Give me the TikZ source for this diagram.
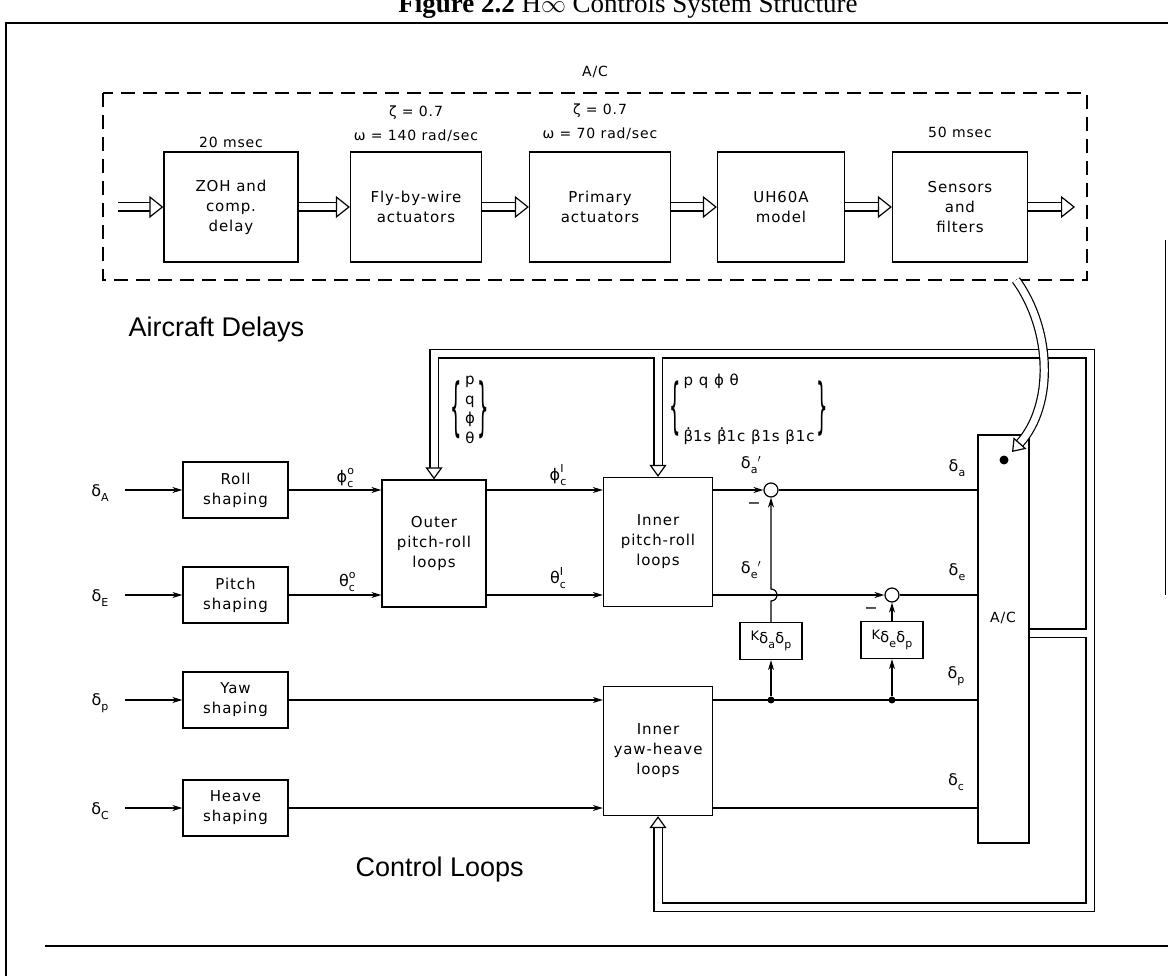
\documentclass[tikz,border=0pt]{standalone}
\usepackage{graphicx}
\usepackage{fontspec}
\setmainfont{DejaVu Sans}[LetterSpace=6]
\newfontfamily\bigfont{Liberation Sans}
\newfontfamily\titlefont{Liberation Serif}
\usetikzlibrary{arrows.meta,calc}
\tikzset{
  blk/.style={rectangle,draw,line width=1.3pt,align=center,inner sep=2pt,font=\fontsize{15}{20}\selectfont},
  topblk/.style={blk,minimum height=110pt},
  shblk/.style={blk,minimum width=105pt,minimum height=56pt},
  lpblk/.style={blk,minimum width=109pt,minimum height=129pt},
  kblk/.style={blk,minimum width=62pt,minimum height=37pt,inner sep=1pt},
  sig/.style={-{Stealth[length=10pt,width=6pt]},line width=1.2pt},
  wire/.style={line width=1.2pt},
  pipe/.style={double,double distance=7pt,line width=1.2pt},
  pipearr/.style={pipe,-{Triangle[open,fill=white,length=14pt,width=22pt]}},
  fbarr/.style={pipe,-{Triangle[open,fill=white,length=12pt,width=17pt]}},
  sumj/.style={circle,draw,line width=1.2pt,minimum size=14pt,inner sep=0pt},
  jdot/.style={circle,fill,inner sep=0pt,minimum size=7pt},
  lbl/.style={inner sep=1pt,font=\fontsize{16}{18}\selectfont},
  note/.style={inner sep=1pt,font=\fontsize{14}{16}\selectfont},
  big/.style={anchor=base west,font=\bigfont\fontsize{27}{30}\selectfont}
}
\newcommand{\bdot}{\ooalign{β\cr\hidewidth\raisebox{0.8em}{.}\hidewidth\cr}}
\newcommand{\sbs}[1]{\raisebox{-0.3em}{\fontsize{11}{11}\selectfont #1}}
\newcommand{\supsbs}[2]{\rlap{\raisebox{0.5em}{\fontsize{11}{11}\selectfont #1}}\raisebox{-0.3em}{\fontsize{11}{11}\selectfont #2}}
\newcommand{\tallbr}[2]{$\vcenter{\hbox{\scalebox{1.2}[#2]{#1}}}$}
\begin{document}
\begin{tikzpicture}[x=1pt,y=-1pt]
\useasboundingbox (0,0) rectangle (1168,976);
% frame and title
\node[anchor=base,font=\titlefont\fontsize{27}{27}\selectfont] (title) at (628,13)
  {\textbf{Figure 2.2} H$\infty$ Controls System Structure};
\draw[line width=2pt] (6,976) -- (6,23) -- (1168,23);
\draw[line width=2pt] (45,946) -- (1168,946);
\draw[line width=1pt] (1165,240) -- (1165,595);

% aircraft delays
\node[note] (aclbl) at (595,72) {A/C};
\draw[line width=1.3pt,dash pattern=on 14pt off 8pt] (103,93) rectangle (1087,280);
\node[topblk,minimum width=134pt] (zoh) at (231,207) {ZOH and\\comp.\\delay};
\node[topblk,minimum width=131pt] (fbw) at (416,207) {Fly-by-wire\\actuators};
\node[topblk,minimum width=141pt] (prim) at (600,207) {Primary\\actuators};
\node[topblk,minimum width=127pt] (uh) at (781,207) {UH60A\\model};
\node[topblk,minimum width=135pt] (sens) at (960,207) {Sensors\\and\\filters};
\node[note] (t20) at (231,142) {20 msec};
\node[note] (z1) at (416,113) {ζ = 0.7};
\node[note] (w1) at (416,136) {ω = 140 rad/sec};
\node[note] (z2) at (600,111) {ζ = 0.7};
\node[note] (w2) at (600,134) {ω = 70 rad/sec};
\node[note] (t50) at (960,132) {50 msec};
\coordinate (acin) at (118,207);
\coordinate (acout) at (1075,207);
\draw[pipearr] (acin) -- (zoh);
\draw[pipearr] (zoh) -- (fbw);
\draw[pipearr] (fbw) -- (prim);
\draw[pipearr] (prim) -- (uh);
\draw[pipearr] (uh) -- (sens);
\draw[pipearr] (sens) -- (acout);
\node[big] (delays) at (125,337) {Aircraft Delays};

% control loops
\node[shblk] (roll) at (235.5,490) {Roll\\shaping};
\node[shblk] (pitch) at (235.5,595) {Pitch\\shaping};
\node[shblk] (yaw) at (235.5,700) {Yaw\\shaping};
\node[shblk] (heave) at (235.5,808) {Heave\\shaping};
\node[blk,minimum width=104pt,minimum height=127pt] (outer) at (434,543.5) {Outer\\pitch-roll\\loops};
\node[lpblk] (inner) at (658,542) {Inner\\pitch-roll\\loops};
\node[lpblk] (yh) at (658,751) {Inner\\yaw-heave\\loops};
\node[blk,minimum width=51pt,minimum height=408pt] (ac) at (1003.5,639) {};
\node[note] (acname) at (1003,618) {A/C};
\node[jdot,minimum size=9pt] (acdot) at (1004,460) {};
\node[sumj] (s1) at (771,490) {};
\node[sumj] (s2) at (892,595) {};
\node[kblk] (k1) at (771,641) {\raisebox{3pt}{\fontsize{13}{13}\selectfont K}δ\sbs{a}δ\sbs{p}};
\node[kblk] (k2) at (892,640) {\raisebox{3pt}{\fontsize{13}{13}\selectfont K}δ\sbs{e}δ\sbs{p}};
\node[jdot] (j1) at (s1 |- yaw) {};
\node[jdot] (j2) at (s2 |- yaw) {};
\node[big] (loops) at (352,876) {Control Loops};

\node[lbl] (dA) at (100,493) {δ\sbs{A}};
\node[lbl] (dE) at (100,598) {δ\sbs{E}};
\node[lbl] (dP) at (100,703) {δ\sbs{p}};
\node[lbl] (dC) at (100,811) {δ\sbs{C}};
\coordinate (inA) at (125,490);
\coordinate (inE) at (125,595);
\coordinate (inP) at (125,700);
\coordinate (inC) at (125,808);
\draw[sig] (inA) -- (roll);
\draw[sig] (inE) -- (pitch);
\draw[sig] (inP) -- (yaw);
\draw[sig] (inC) -- (heave);

\draw[sig] (roll) -- (roll -| outer.west);
\draw[sig] (pitch) -- (pitch -| outer.west);
\draw[sig] (outer.east |- roll) -- (inner.west |- roll);
\draw[sig] (outer.east |- pitch) -- (inner.west |- pitch);
\draw[sig] (yaw) -- (yaw -| yh.west);
\draw[sig] (heave) -- (heave -| yh.west);
\node[lbl] (phio) at (345,478) {ϕ\supsbs{o}{c}};
\node[lbl] (tho) at (347,582) {θ\supsbs{o}{c}};
\node[lbl] (phii) at (558,475) {ϕ\supsbs{I}{c}};
\node[lbl] (thi) at (558,578) {θ\supsbs{I}{c}};

\draw[sig] (inner.east |- s1) -- (s1);
\draw[sig] (inner.east |- s2) -- (s2);
\draw[wire] (s1) -- (s1 -| ac.west);
\draw[wire] (s2) -- (s2 -| ac.west);
\draw[wire] (yh.east |- yaw) -- (yaw -| ac.west);
\draw[wire] (yh.east |- heave) -- (heave -| ac.west);
\draw[sig] (j1) -- (k1);
\draw[sig] (j2) -- (k2);
\draw[sig] (k2) -- (s2);
\draw[sig] (k1.north) -- ($(k1.north |- s2)+(0,6)$) arc[start angle=-90,end angle=90,radius=6pt] -- (s1);
\node[lbl] (da1) at (751,465) {δ\sbs{a}$'$};
\node[lbl] (de1) at (751,570) {δ\sbs{e}$'$};
\node[lbl] (m1) at (754,506) {−};
\node[lbl] (m2) at (871,611) {−};
\node[lbl] (da) at (957,468) {δ\sbs{a}};
\node[lbl] (de) at (957,572) {δ\sbs{e}};
\node[lbl] (dp) at (956,676) {δ\sbs{p}};
\node[lbl] (dc) at (956,782) {δ\sbs{c}};

% feedback
\node[lbl,font=\fontsize{15}{20}\selectfont] (fb1) at (470,410)
  {\tallbr{\{}{4.2}\hspace{3pt}\begin{tabular}{@{}c@{}}p\\q\\ϕ\\θ\end{tabular}\hspace{3pt}\tallbr{\}}{4.2}};
\node[lbl,anchor=west,font=\fontsize{15}{20}\selectfont] (fb2) at (668,409)
  {\tallbr{\{}{4.0}\hspace{3pt}\begin{tabular}{@{}l@{}}p q ϕ θ\\[36pt]\bdot1s \bdot1c β1s β1c\end{tabular}\hspace{2pt}\tallbr{\}}{4.0}};
\coordinate (sensfb) at (1016,280);
\draw[fbarr] (1090,633) |- (434,354) -- (outer.north);
\draw[fbarr] (1090,633) |- (658,907) -- (yh.south);
\draw[fbarr] (658,357.5) -- (inner.north);
\draw[pipe] (ac.east |- 0,633) -- (1086.5,633);
\draw[fbarr] (sensfb) .. controls (1052,330) and (1054,405) .. (1012,452);
\end{tikzpicture}
\end{document}
